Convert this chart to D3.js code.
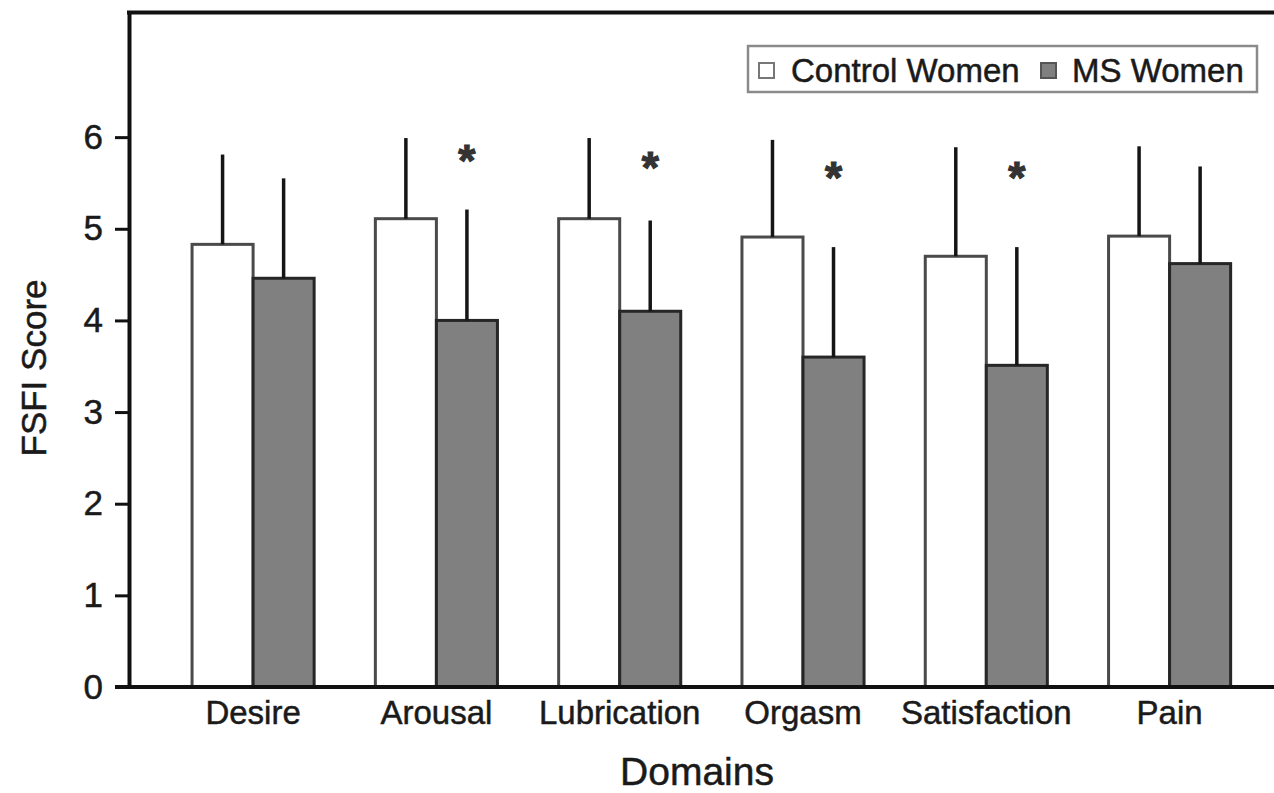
<!DOCTYPE html>
<html>
<head>
<meta charset="utf-8">
<script src="https://cdn.jsdelivr.net/npm/d3@7"></script>
<style>
  html, body { margin: 0; padding: 0; background: #fff; }
  svg { display: block; }
  text { font-family: "Liberation Sans", Arial, Helvetica, sans-serif; fill: #1a1a1a;
         stroke: #1a1a1a; stroke-width: 0.5px; }
</style>
</head>
<body>
<svg id="chart" width="1274" height="793"></svg>
<script>
// FSFI domain scores: control women vs women with MS (mean and SD)
const categories = ["Desire", "Arousal", "Lubrication", "Orgasm", "Satisfaction", "Pain"];
const seriesNames = ["Control Women", "MS Women"];
const controlMean = [4.83, 5.11, 5.11, 4.91, 4.70, 4.92];
const controlSD   = [0.98, 0.88, 0.88, 1.06, 1.19, 0.98];
const msMean      = [4.46, 4.00, 4.10, 3.60, 3.51, 4.62];
const msSD        = [1.09, 1.21, 0.99, 1.20, 1.29, 1.06];
// significance markers (asterisk level in score units, null = not significant)
const sigLevel    = [null, 5.86, 5.78, 5.67, 5.67, null];
const yTicks      = [0, 1, 2, 3, 4, 5, 6];

const svg = d3.select("#chart");

const y = d3.scaleLinear().domain([0, 7.36]).range([687, 12.5]);
const x0 = d3.scaleBand().domain(categories).range([129, 1293.7])
  .paddingInner(0.334).paddingOuter(0.344);
const x1 = d3.scaleBand().domain(seriesNames).range([0, x0.bandwidth()]).padding(0);

const rows = categories.map((c, i) => ({
  cat: c,
  vals: [
    { s: seriesNames[0], mean: controlMean[i], sd: controlSD[i] },
    { s: seriesNames[1], mean: msMean[i], sd: msSD[i] }
  ],
  sig: sigLevel[i]
}));

const fillOf = { "Control Women": "#ffffff", "MS Women": "#808080" };
const strokeOf = { "Control Women": "#4a4a4a", "MS Women": "#262626" };

// bars
const groups = svg.append("g").selectAll("g").data(rows).join("g")
  .attr("transform", d => `translate(${x0(d.cat)},0)`);

groups.selectAll("rect").data(d => d.vals).join("rect")
  .attr("x", d => x1(d.s))
  .attr("y", d => y(d.mean))
  .attr("width", x1.bandwidth())
  .attr("height", d => y(0) - y(d.mean))
  .attr("fill", d => fillOf[d.s])
  .attr("stroke", d => strokeOf[d.s])
  .attr("stroke-width", 3);

// one-sided error bars (upper SD)
groups.selectAll("line.err").data(d => d.vals).join("line")
  .attr("class", "err")
  .attr("x1", d => x1(d.s) + x1.bandwidth() / 2)
  .attr("x2", d => x1(d.s) + x1.bandwidth() / 2)
  .attr("y1", d => y(d.mean))
  .attr("y2", d => y(d.mean + d.sd))
  .attr("stroke", "#151515")
  .attr("stroke-width", 3.5);

// significance asterisks above the MS bars
groups.filter(d => d.sig !== null).append("text")
  .attr("x", x1("MS Women") + x1.bandwidth() / 2)
  .attr("y", d => y(d.sig) + 26)
  .attr("text-anchor", "middle")
  .style("font-size", "44px")
  .style("font-weight", "bold")
  .style("fill", "#333").style("stroke", "#333").style("stroke-width", "1.2px")
  .text("*");

// y axis
const yAxis = d3.axisLeft(y).tickValues(yTicks).tickSize(14).tickSizeOuter(0).tickPadding(12)
  .tickFormat(d3.format("d"));
const gy = svg.append("g").attr("transform", "translate(129,0)").call(yAxis);
gy.select(".domain").attr("stroke", "#111").attr("stroke-width", 4);
gy.selectAll(".tick line").attr("stroke", "#111").attr("stroke-width", 3);
gy.selectAll(".tick text").style("font-size", "35px").attr("fill", "#1a1a1a")
  .attr("font-family", null);

// x axis labels
const xAxis = d3.axisBottom(x0).tickSize(0).tickPadding(14);
const gx = svg.append("g").attr("transform", "translate(0,687)").call(xAxis);
gx.select(".domain").remove();
gx.selectAll(".tick text").style("font-size", "33px").attr("fill", "#1a1a1a")
  .attr("dy", "0.71em").attr("font-family", null);

// baseline and top frame line
svg.append("line").attr("x1", 115).attr("x2", 1274).attr("y1", y(0)).attr("y2", y(0))
  .attr("stroke", "#111").attr("stroke-width", 4);
svg.append("line").attr("x1", 127).attr("x2", 1274).attr("y1", y(7.36)).attr("y2", y(7.36))
  .attr("stroke", "#111").attr("stroke-width", 4);

// axis titles
svg.append("text")
  .attr("transform", "translate(33,368) rotate(-90)")
  .attr("text-anchor", "middle")
  .attr("dominant-baseline", "central")
  .style("font-size", "35px")
  .text("FSFI Score");

svg.append("text")
  .attr("x", 697).attr("y", 785)
  .attr("text-anchor", "middle")
  .style("font-size", "39px")
  .text("Domains");

// legend
const lg = svg.append("g");
lg.append("rect").attr("x", 748).attr("y", 46).attr("width", 509).attr("height", 46)
  .attr("fill", "#fff").attr("stroke", "#8a8a8a").attr("stroke-width", 2.5);
const legendItems = [
  { s: seriesNames[0], box: 759, text: 791 },
  { s: seriesNames[1], box: 1041, text: 1072 }
];
legendItems.forEach(it => {
  lg.append("rect").attr("x", it.box).attr("y", 63).attr("width", 15).attr("height", 15)
    .attr("fill", fillOf[it.s]).attr("stroke", it.s === "MS Women" ? "#555" : "#777")
    .attr("stroke-width", 2);
  lg.append("text").attr("x", it.text).attr("y", 82)
    .style("font-size", "33px").text(it.s);
});
</script>
</body>
</html>
